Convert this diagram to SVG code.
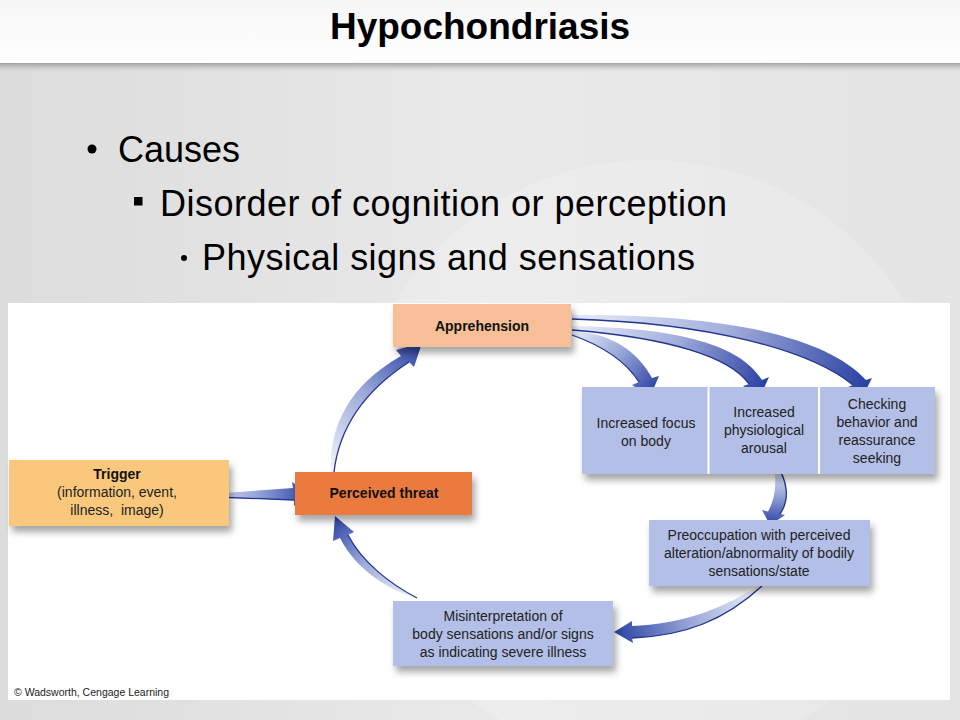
<svg xmlns="http://www.w3.org/2000/svg" width="960" height="720" viewBox="0 0 960 720">
<defs>
<linearGradient id="bg" x1="0" y1="0" x2="1" y2="0">
<stop offset="0" stop-color="#dcdcdc"/>
<stop offset="0.5" stop-color="#e9e9e9"/>
<stop offset="1" stop-color="#e4e4e4"/>
</linearGradient>
<linearGradient id="hdr" x1="0" y1="0" x2="0" y2="1">
<stop offset="0" stop-color="#f6f6f6"/>
<stop offset="1" stop-color="#ffffff"/>
</linearGradient>
<linearGradient id="hdrsh" x1="0" y1="0" x2="0" y2="1">
<stop offset="0" stop-color="#8a8a8a" stop-opacity="0.9"/>
<stop offset="1" stop-color="#c8c8c8" stop-opacity="0"/>
</linearGradient>
<filter id="sh" x="-10%" y="-20%" width="130%" height="160%">
<feDropShadow dx="3" dy="6" stdDeviation="3.5" flood-color="#000" flood-opacity="0.35"/>
</filter>
<linearGradient id="gA" gradientUnits="userSpaceOnUse" x1="203" y1="495" x2="310" y2="494"><stop offset="0" stop-color="#e8ecf8"/><stop offset="0.55" stop-color="#8e9dd4"/><stop offset="1" stop-color="#2c42a4"/></linearGradient>
<linearGradient id="gB" gradientUnits="userSpaceOnUse" x1="332" y1="472" x2="420" y2="345"><stop offset="0" stop-color="#f4f6fb"/><stop offset="0.55" stop-color="#9aa7d8"/><stop offset="1" stop-color="#2c42a4"/></linearGradient>
<linearGradient id="gC" gradientUnits="userSpaceOnUse" x1="417" y1="598" x2="335" y2="516"><stop offset="0" stop-color="#f4f6fb"/><stop offset="0.55" stop-color="#9aa7d8"/><stop offset="1" stop-color="#2c42a4"/></linearGradient>
<linearGradient id="gD" gradientUnits="userSpaceOnUse" x1="572" y1="333" x2="650" y2="397"><stop offset="0" stop-color="#e8ecf8"/><stop offset="0.5" stop-color="#98a6d8"/><stop offset="1" stop-color="#2c42a4"/></linearGradient>
<linearGradient id="gE" gradientUnits="userSpaceOnUse" x1="572" y1="328" x2="760" y2="397"><stop offset="0" stop-color="#e8ecf8"/><stop offset="0.5" stop-color="#a4b0dc"/><stop offset="1" stop-color="#2c42a4"/></linearGradient>
<linearGradient id="gF" gradientUnits="userSpaceOnUse" x1="572" y1="317" x2="862" y2="398"><stop offset="0" stop-color="#e8ecf8"/><stop offset="0.5" stop-color="#a4b0dc"/><stop offset="1" stop-color="#2c42a4"/></linearGradient>
<linearGradient id="gG" gradientUnits="userSpaceOnUse" x1="774" y1="463" x2="770" y2="525"><stop offset="0" stop-color="#f4f6fb"/><stop offset="0.5" stop-color="#9aa7d8"/><stop offset="1" stop-color="#2c42a4"/></linearGradient>
<linearGradient id="gH" gradientUnits="userSpaceOnUse" x1="760" y1="586" x2="614" y2="632"><stop offset="0" stop-color="#f4f6fb"/><stop offset="0.5" stop-color="#9aa7d8"/><stop offset="1" stop-color="#2c42a4"/></linearGradient>
</defs>
<style>
.title{font-family:"Liberation Sans",Arial,sans-serif;font-weight:bold;font-size:37px;fill:#000}
.bul{font-family:"Liberation Sans",Arial,sans-serif;font-size:36px;fill:#000}
.t{font-family:"Liberation Sans",Arial,sans-serif;font-size:14px;fill:#222;text-anchor:middle}
.b{font-weight:bold;fill:#111}
.edge{fill:none;stroke:#22358f;stroke-width:1.3}
.blue{fill:#b3bfe6}
.copy{font-family:"Liberation Sans",Arial,sans-serif;font-size:10.5px;fill:#222}
</style>

<!-- slide background -->
<rect x="0" y="0" width="960" height="720" fill="url(#bg)"/>
<circle cx="650" cy="460" r="300" fill="#ffffff" opacity="0.18"/>
<rect x="0" y="62" width="960" height="10" fill="url(#hdrsh)"/>
<rect x="0" y="0" width="960" height="63" fill="url(#hdr)"/>
<text class="title" x="480" y="39" text-anchor="middle">Hypochondriasis</text>

<!-- bullets -->
<g id="bullets">
<circle cx="92" cy="149" r="4.5" fill="#000"/>
<text class="bul" x="118" y="162">Causes</text>
<rect x="134" y="197" width="8.5" height="8.5" fill="#000"/>
<text class="bul" x="160" y="216" textLength="567">Disorder of cognition or perception</text>
<circle cx="184" cy="258" r="3" fill="#000"/>
<text class="bul" x="202" y="270" textLength="493">Physical signs and sensations</text>
</g>

<!-- diagram panel -->
<rect x="8" y="303" width="942" height="397" fill="#ffffff"/>

<g id="connectors">
<g id="a-trigger-threat">
<path d="M203,494.5 L293,488 L292,482 L310,494 L294,506 L294,500 L203,497 Z" fill="url(#gA)"/>
<path class="edge" d="M203,496.5 L294,500"/>
</g>
<g id="a-threat-apprehension">
<path d="M331,472 C329,425 350,385 401,356 L396,350 L422,343 L414,367 L409,362 C372,386 340,420 334,472 Z" fill="url(#gB)"/>
<path class="edge" d="M334,472 C340,420 372,386 409,362"/>
</g>
<g id="a-misinterp-threat">
<path d="M417,599 C385,588 355,568 340,538 L333,541 L335,516 L354,532 L348,535 C362,562 390,584 417,597 Z" fill="url(#gC)"/>
<path class="edge" d="M348,535 C362,562 390,584 417,598"/>
</g>
<g id="a-appr-focus">
<path d="M572,331 C612,333 638,352 652,378 L659,376 L650,397 L632,385 L639,382 C625,360 600,345 572,335 Z" fill="url(#gD)"/>
<path class="edge" d="M572,335 C600,345 625,360 639,382"/>
</g>
<g id="a-appr-arousal">
<path d="M572,326 C680,328 740,345 762,380 L769,377 L760,397 L743,386 L749,384 C730,357 670,338 572,330 Z" fill="url(#gE)"/>
<path class="edge" d="M572,330 C670,338 730,357 749,384"/>
</g>
<g id="a-appr-checking">
<path d="M572,315 C720,314 825,335 866,380 L872,378 L862,398 L848,387 L853,385 C810,350 710,323 572,319 Z" fill="url(#gF)"/>
<path class="edge" d="M572,319 C710,323 810,350 853,385"/>
</g>
<g id="a-arousal-preocc">
<path d="M775,463 C788,480 790,500 780,514 L785,515 L770,525 L762,510 L768,511.5 C776,498 777,480 773,463 Z" fill="url(#gG)"/>
<path class="edge" d="M775,463 C788,480 790,500 780,514"/>
</g>
<g id="a-preocc-misinterp">
<path d="M759,586 C715,612 680,624 632,626 L632,621 L614,632 L633,643 L632,638 C685,636 725,620 762,586 Z" fill="url(#gH)"/>
<path class="edge" d="M632,638 C685,636 725,620 762,586"/>
</g>
</g>

<g id="apprehension">
<rect x="393" y="304" width="178" height="43" fill="#f6bf97" filter="url(#sh)"/>
<text class="t b" x="482" y="331">Apprehension</text>
</g>

<g id="trigger">
<rect x="9" y="460" width="220" height="66" fill="#f9c87c" filter="url(#sh)"/>
<text class="t b" x="117" y="479">Trigger</text>
<text class="t" x="117" y="497">(information, event,</text>
<text class="t" x="117" y="515" xml:space="preserve">illness,  image)</text>
</g>

<g id="perceived-threat">
<rect x="295" y="472" width="177" height="43" fill="#ea7a3c" filter="url(#sh)"/>
<text class="t b" x="384" y="498">Perceived threat</text>
</g>

<g id="responses">
<rect class="blue" x="582" y="387" width="353" height="87" filter="url(#sh)"/>
<line x1="708.5" y1="387" x2="708.5" y2="474" stroke="#ffffff" stroke-width="2"/>
<line x1="819" y1="387" x2="819" y2="474" stroke="#ffffff" stroke-width="2"/>
</g>
<g id="focus">
<text class="t" x="646" y="428">Increased focus</text>
<text class="t" x="646" y="446">on body</text>
</g>
<g id="arousal">
<text class="t" x="764" y="417">Increased</text>
<text class="t" x="764" y="435">physiological</text>
<text class="t" x="764" y="453">arousal</text>
</g>
<g id="checking">
<text class="t" x="877" y="409">Checking</text>
<text class="t" x="877" y="427">behavior and</text>
<text class="t" x="877" y="445">reassurance</text>
<text class="t" x="877" y="463">seeking</text>
</g>

<g id="preoccupation">
<rect class="blue" x="649" y="520" width="221" height="66" filter="url(#sh)"/>
<text class="t" x="759" y="540">Preoccupation with perceived</text>
<text class="t" x="759" y="558">alteration/abnormality of bodily</text>
<text class="t" x="759" y="576">sensations/state</text>
</g>

<g id="misinterpretation">
<rect class="blue" x="393" y="601" width="220" height="65" filter="url(#sh)"/>
<text class="t" x="503" y="621">Misinterpretation of</text>
<text class="t" x="503" y="639">body sensations and/or signs</text>
<text class="t" x="503" y="657">as indicating severe illness</text>
</g>

<text class="copy" x="14" y="696">© Wadsworth, Cengage Learning</text>
</svg>
